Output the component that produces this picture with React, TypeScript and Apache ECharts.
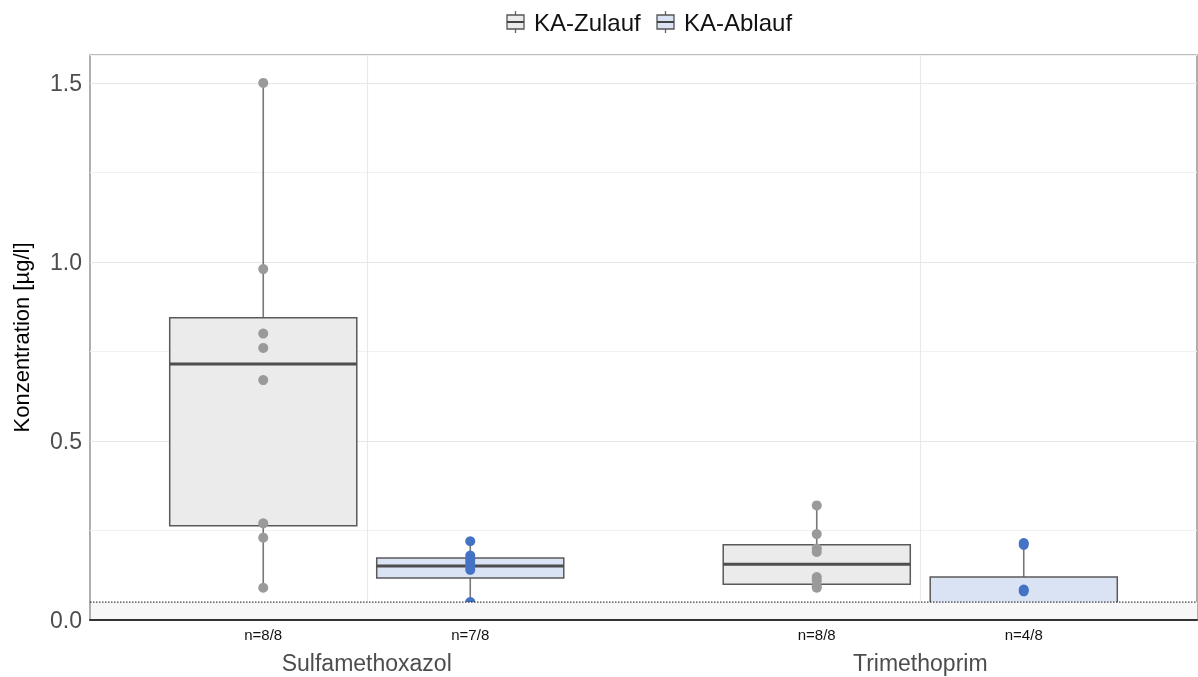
import React, { useEffect, useRef } from "react";
import * as echarts from "echarts";

const categories = ["Sulfamethoxazol", "Trimethoprim"];
const seriesNames = ["KA-Zulauf", "KA-Ablauf"];
// [min, Q1, median, Q3, max] per category
const zulaufBox = [
  [0.092, 0.263, 0.715, 0.844, 1.5],
  [0.092, 0.1, 0.156, 0.21, 0.321],
];
const ablaufBox = [
  [0.053, 0.117, 0.151, 0.173, 0.22],
  [0.03, 0.03, 0.04, 0.12, 0.215],
];
const zulaufPoints = [
  [1.5, 0.98, 0.8, 0.76, 0.67, 0.27, 0.23, 0.09],
  [0.32, 0.24, 0.2, 0.19, 0.12, 0.11, 0.095, 0.09],
];
const ablaufPoints = [
  [0.22, 0.18, 0.17, 0.16, 0.15, 0.14, 0.05],
  [0.215, 0.21, 0.085, 0.08],
];
const zulaufN = ["n=8/8", "n=8/8"];
const ablaufN = ["n=7/8", "n=4/8"];
const LOQ = 0.05;
const yTicks = [0, 0.5, 1.0, 1.5];

const DODGE = 0.187;
const HALF = 0.169;
const FILLS = ["#ebebeb", "#dae3f3"];
const POINT_COLORS = ["#9a9a9a", "#4472c4"];

function boxRenderer(offset: number, fill: string, labels: string[]) {
  return (params: any, api: any) => {
    const idx = api.value(0);
    const x = idx + offset;
    const mn = api.value(1), q1 = api.value(2), md = api.value(3), q3 = api.value(4), mx = api.value(5);
    const pTop = api.coord([x, mx]);
    const pBot = api.coord([x, mn]);
    const bl = api.coord([x - HALF, q1]);
    const tr = api.coord([x + HALF, q3]);
    const medL = api.coord([x - HALF, md]);
    const medR = api.coord([x + HALF, md]);
    const q3c = api.coord([x, q3]);
    const q1c = api.coord([x, q1]);
    const base = api.coord([x, 0]);
    return {
      type: "group",
      children: [
        { type: "line", shape: { x1: pTop[0], y1: pTop[1], x2: q3c[0], y2: q3c[1] }, style: { stroke: "#777", lineWidth: 1.6 } },
        { type: "line", shape: { x1: q1c[0], y1: q1c[1], x2: pBot[0], y2: pBot[1] }, style: { stroke: "#777", lineWidth: 1.6 } },
        { type: "rect", shape: { x: bl[0], y: tr[1], width: tr[0] - bl[0], height: bl[1] - tr[1] }, style: { fill, stroke: "#5a5a5a", lineWidth: 1.5 } },
        { type: "line", shape: { x1: medL[0], y1: medL[1], x2: medR[0], y2: medR[1] }, style: { stroke: "#4d4d4d", lineWidth: 3 } },
        { type: "text", x: base[0], y: base[1] + 14, style: { text: labels[idx], fontSize: 15, fontFamily: "Liberation Sans, Arial, sans-serif", fill: "#111", align: "center", verticalAlign: "middle" } },
      ],
    };
  };
}

function legendIcon(x: number, fill: string) {
  return [
    { type: "line", shape: { x1: x + 8.5, y1: 11, x2: x + 8.5, y2: 33 }, style: { stroke: "#666", lineWidth: 1.3 } },
    { type: "rect", shape: { x, y: 15, width: 17, height: 14 }, style: { fill, stroke: "#555", lineWidth: 1.3 } },
    { type: "line", shape: { x1: x, y1: 22, x2: x + 17, y2: 22 }, style: { stroke: "#444", lineWidth: 2 } },
  ];
}

export default function App() {
  const ref = useRef<HTMLDivElement>(null);
  useEffect(() => {
    if (!ref.current) return;
    const chart = echarts.init(ref.current, null, { renderer: "svg" });
    const font = "Liberation Sans, Arial, sans-serif";
    const scatterData = (pts: number[][], offset: number) =>
      pts.flatMap((arr, i) => arr.map((v) => [i + offset, v]));
    chart.setOption({
      animation: false,
      textStyle: { fontFamily: font },
      grid: { left: 90, right: 1, top: 55, bottom: 57, outerBoundsMode: "none", containLabel: false, show: true, borderColor: "#7a7a7a", borderWidth: 1.2, backgroundColor: "transparent" },
      xAxis: [
        {
          type: "category",
          data: categories,
          axisLine: { show: true, lineStyle: { color: "#333", width: 2 } },
          axisTick: { show: false },
          axisLabel: { fontSize: 23, color: "#4d4d4d", margin: 31, fontFamily: font },
          splitLine: { show: true, alignWithLabel: true, lineStyle: { color: "#e9e9e9", width: 1.2 } },
        },
        { type: "value", min: -0.5, max: 1.5, show: false },
      ],
      yAxis: {
        type: "value",
        min: 0,
        max: 1.578,
        interval: 0.25,
        name: "Konzentration [µg/l]",
        nameLocation: "middle",
        nameGap: 58,
        nameRotate: 90,
        nameTextStyle: { fontSize: 22, color: "#000", fontFamily: font },
        axisLine: { show: false },
        axisTick: { show: false },
        axisLabel: {
          fontSize: 23,
          color: "#4d4d4d",
          margin: 8,
          showMaxLabel: false,
          fontFamily: font,
          formatter: (v: number) => (yTicks.some((t) => Math.abs(t - v) < 1e-6) ? v.toFixed(1) : ""),
        },
        splitLine: { show: true, lineStyle: { color: ["#e6e6e6", "#f1f1f1"], width: 1.2 } },
      },
      graphic: [
        { type: "group", children: [
          ...legendIcon(507, FILLS[0]),
          { type: "text", x: 534, y: 22, style: { text: seriesNames[0], fontSize: 24, fontFamily: font, fill: "#111", verticalAlign: "middle" } },
          ...legendIcon(657, FILLS[1]),
          { type: "text", x: 684, y: 22, style: { text: seriesNames[1], fontSize: 24, fontFamily: font, fill: "#111", verticalAlign: "middle" } },
        ] },
      ],
      series: [
        {
          name: seriesNames[0],
          type: "custom",
          xAxisIndex: 1,
          clip: false,
          z: 2,
          encode: { x: 0, y: [1, 2, 3, 4, 5] },
          data: zulaufBox.map((b, i) => [i, ...b]),
          renderItem: boxRenderer(-DODGE, FILLS[0], zulaufN),
        },
        {
          name: seriesNames[1],
          type: "custom",
          xAxisIndex: 1,
          clip: false,
          z: 2,
          encode: { x: 0, y: [1, 2, 3, 4, 5] },
          data: ablaufBox.map((b, i) => [i, ...b]),
          renderItem: boxRenderer(DODGE, FILLS[1], ablaufN),
        },
        {
          name: seriesNames[0] + " Werte",
          type: "scatter",
          xAxisIndex: 1,
          z: 3,
          symbolSize: 10,
          itemStyle: { color: POINT_COLORS[0], opacity: 1 },
          data: scatterData(zulaufPoints, -DODGE),
        },
        {
          name: seriesNames[1] + " Werte",
          type: "scatter",
          xAxisIndex: 1,
          z: 3,
          symbolSize: 10,
          itemStyle: { color: POINT_COLORS[1], opacity: 1 },
          data: scatterData(ablaufPoints, DODGE),
        },
        {
          name: "BG",
          type: "custom",
          xAxisIndex: 1,
          z: 4,
          silent: true,
          encode: { x: 0, y: 1 },
          data: [[-0.5, LOQ]],
          renderItem: (params: any, api: any) => {
            const a = api.coord([-0.5, api.value(1)]);
            const b = api.coord([1.5, 0]);
            return {
              type: "group",
              children: [
                { type: "rect", shape: { x: a[0] + 1, y: a[1], width: b[0] - a[0] - 1, height: b[1] - a[1] - 1 }, style: { fill: "#f7f7f7" } },
                { type: "line", shape: { x1: a[0], y1: a[1], x2: b[0], y2: a[1] }, style: { stroke: "#111", lineWidth: 1, lineDash: [1.5, 1.5] } },
              ],
            };
          },
        },
      ],
    });
    return () => chart.dispose();
  }, []);
  return <div ref={ref} style={{ position: "fixed", left: 0, top: 0, width: 1198, height: 677 }} />;
}
